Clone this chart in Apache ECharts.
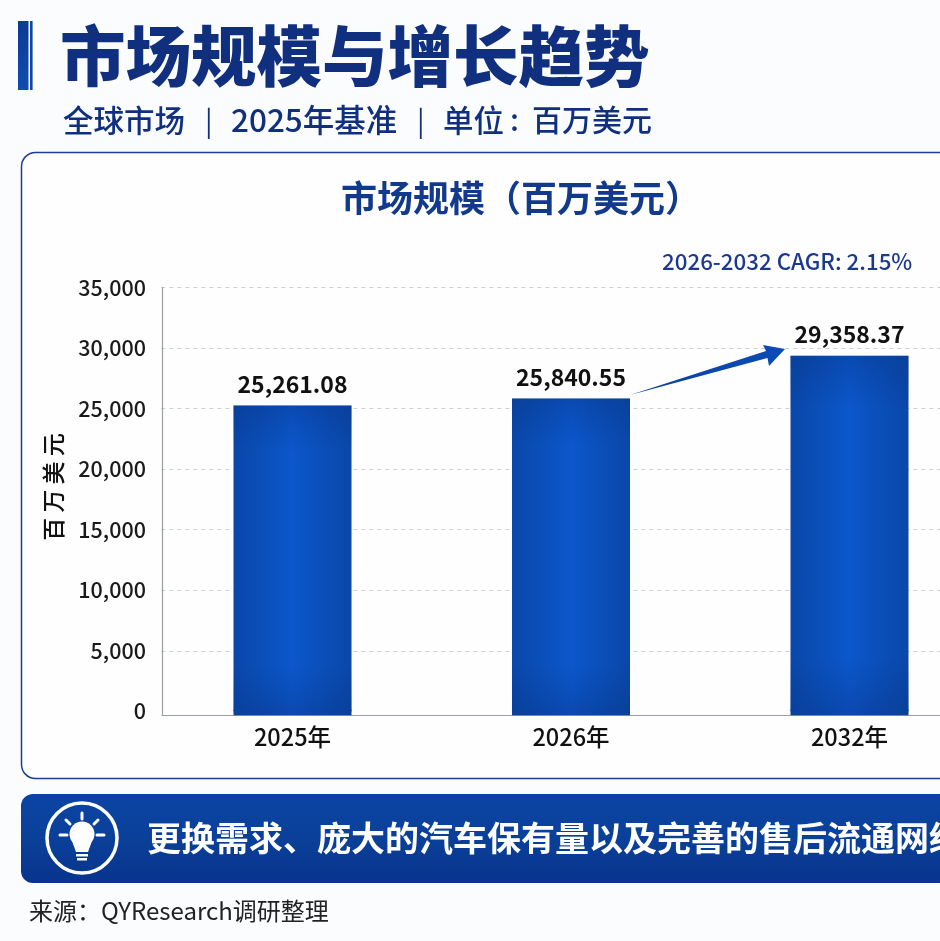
<!DOCTYPE html>
<html><head><meta charset="utf-8">
<style>html,body{margin:0;padding:0;background:#fbfcfe}#c{width:940px;height:941px}</style>
<script src="https://cdn.jsdelivr.net/npm/echarts@6/dist/echarts.min.js"></script>
</head><body><div id="c"></div>
<script>
const categories = ['2025年', '2026年', '2032年'];
const marketSize = [25261.08, 25840.55, 29358.37];
const yLabels = [0, 5000, 10000, 15000, 20000, 25000, 30000, 35000];
const gridTicks = [5000, 10000, 15000, 20000, 25000, 30000, 35000];
const mainTitle = '市场规模与增长趋势';
const chartTitle = '市场规模（百万美元）';
const cagrNote = '2026-2032 CAGR: 2.15%';
const bannerText = '更换需求、庞大的汽车保有量以及完善的售后流通网络';
const sourceText = '来源：QYResearch调研整理';

const CJK = '"Noto Sans CJK SC","Noto Sans",sans-serif';
const NAVY = '#10307f';
const BAR_W = 118;
const AXIS_FLOOR = -330;
const barColor = {type: 'linear', x: 0, y: 0, x2: 1, y2: 0, colorStops: [
  {offset: 0, color: '#0a47a8'}, {offset: 0.5, color: '#0b57cc'}, {offset: 1, color: '#0a47a8'}]};
const fmt = v => v.toLocaleString('en-US', {minimumFractionDigits: 2, maximumFractionDigits: 2});
const txt = (text, x, y, size, weight, fill, extra) => Object.assign({
  type: 'text', x, y, silent: true, z: 5,
  style: {text, fontSize: size, fontWeight: weight, fontFamily: CJK, fill, textAlign: 'left', textVerticalAlign: 'middle'}
}, extra || {});
const ray = (x1, y1, x2, y2) => ({type: 'line', silent: true, z: 6,
  shape: {x1, y1, x2, y2}, style: {stroke: '#fff', lineWidth: 3, lineCap: 'round'}});

const decor = [
  // title block
  {type: 'rect', silent: true, z: 5, shape: {x: 18, y: 21, width: 10.5, height: 69},
    style: {fill: {type: 'linear', x: 0, y: 0, x2: 0, y2: 1, colorStops: [{offset: 0, color: '#0d3a94'}, {offset: 1, color: '#0f4db0'}]}}},
  {type: 'rect', silent: true, z: 5, shape: {x: 30, y: 21, width: 2.6, height: 69}, style: {fill: '#0f46a6'}},
  txt(mainTitle, 60, 56, 65.5, 900, NAVY),
  txt('全球市场', 63, 120, 30.5, 500, NAVY),
  txt('|', 205, 120, 28, 400, NAVY),
  txt('2025年基准', 231, 120, 31.5, 500, NAVY),
  txt('|', 417, 120, 28, 400, NAVY),
  txt('单位', 443, 120, 30.5, 500, NAVY),
  txt(':', 510, 120, 30, 500, NAVY),
  txt('百万美元', 532, 120, 30, 500, NAVY),
  // chart card
  {type: 'rect', silent: true, z: -10, shape: {x: 21.5, y: 152.5, width: 960, height: 626, r: 14},
    style: {fill: '#fefefe', stroke: '#1c3f94', lineWidth: 1.5}},
  txt(chartTitle, 341, 198, 36, 600, '#123a8c'),
  txt(cagrNote, 662, 262, 22.3, 500, '#1c3a8c'),
  txt('百 万 美 元', 53, 487, 23, 500, '#111', {rotation: Math.PI / 2, style: {text: '百 万 美 元', fontSize: 23, fontWeight: 500, fontFamily: CJK, fill: '#111', textAlign: 'center', textVerticalAlign: 'middle'}}),
  // trims of grid edge left of the axis
  {type: 'rect', silent: true, z: 1, shape: {x: 150, y: 280, width: 7, height: 425}, style: {fill: '#fefefe'}},
  {type: 'rect', silent: true, z: 1, shape: {x: 150, y: 713, width: 11.5, height: 4}, style: {fill: '#fefefe'}},
  // growth arrow
  {type: 'polygon', silent: true, z: 6,
    shape: {points: [[630, 395], [766, 351], [763, 345], [785, 349], [769, 366], [767.5, 358]]},
    style: {fill: {type: 'linear', x: 0, y: 1, x2: 1, y2: 0, colorStops: [{offset: 0, color: '#0c3f9c'}, {offset: 1, color: '#0b4cb8'}]}}},
  // banner
  {type: 'rect', silent: true, z: -9, shape: {x: 21, y: 794, width: 960, height: 89, r: 12},
    style: {fill: {type: 'linear', x: 0, y: 0, x2: 0, y2: 1, colorStops: [
      {offset: 0, color: '#0a44a4'}, {offset: 0.5, color: '#0a4099'}, {offset: 1, color: '#08348c'}]}}},
  {type: 'circle', silent: true, z: 6, shape: {cx: 82, cy: 838, r: 35}, style: {fill: 'transparent', stroke: '#fff', lineWidth: 3.5}},
  ray(82, 813, 82, 819), ray(66, 820, 70, 824), ray(98, 820, 94, 824), ray(60, 835, 67, 835), ray(97, 835, 104, 835),
  {type: 'circle', silent: true, z: 6, shape: {cx: 82, cy: 834, r: 12.5}, style: {fill: '#fff'}},
  {type: 'polygon', silent: true, z: 6, shape: {points: [[72, 841], [92, 841], [88, 852], [76, 852]]}, style: {fill: '#fff'}},
  {type: 'rect', silent: true, z: 6, shape: {x: 76, y: 854, width: 12, height: 2.5}, style: {fill: '#fff'}},
  {type: 'rect', silent: true, z: 6, shape: {x: 77, y: 858, width: 10, height: 2.5}, style: {fill: '#fff'}},
  txt(bannerText, 147, 838, 34, 700, '#fff'),
  txt(sourceText, 29, 911, 24, 400, '#222')
];

const chart = echarts.init(document.getElementById('c'), null, {renderer: 'canvas'});
chart.setOption({
  animation: false,
  backgroundColor: '#fbfcfe',
  grid: {left: 153.25, width: 835.5, top: 287.5, height: 427.8, containLabel: false, outerBoundsMode: 'none'},
  xAxis: {
    type: 'category', data: categories,
    axisLine: {onZero: false, lineStyle: {color: '#9a9ea6', width: 1.2}},
    axisTick: {show: false},
    axisLabel: {fontSize: 23.5, fontWeight: 500, fontFamily: CJK, color: '#111', margin: 10}
  },
  yAxis: {
    type: 'value', min: AXIS_FLOOR, max: 35000, offset: -8.75,
    axisLine: {show: true, lineStyle: {color: '#9a9ea6', width: 1.2}},
    axisTick: {show: false, customValues: gridTicks},
    axisLabel: {customValues: yLabels, fontSize: 21.5, fontWeight: 500, fontFamily: CJK, color: '#1a1a1a', margin: 16,
      formatter: v => Number(v).toLocaleString('en-US')},
    splitLine: {show: true, lineStyle: {color: '#cdd1d6', type: [4, 4], width: 1}}
  },
  series: [
    {
      type: 'bar', data: marketSize, barWidth: BAR_W, z: 2,
      itemStyle: {color: barColor},
      label: {show: true, position: 'top', distance: 10, fontSize: 23, fontWeight: 600, fontFamily: CJK, color: '#111',
        formatter: p => fmt(p.value)}
    },
    {
      type: 'bar', data: marketSize, barWidth: BAR_W, barGap: '-100%', z: 3, silent: true,
      itemStyle: {color: {type: 'linear', x: 0, y: 0, x2: 0, y2: 1, colorStops: [
        {offset: 0, color: 'rgba(8,50,130,0.35)'}, {offset: 0.15, color: 'rgba(8,50,130,0)'},
        {offset: 0.85, color: 'rgba(8,50,130,0)'}, {offset: 1, color: 'rgba(8,50,130,0.35)'}]}}
    }
  ],
  graphic: decor
});

// The reference's bars run a few pixels past the zero level down to the axis line.
const feet = marketSize.map((v, i) => {
  const top = chart.convertToPixel({xAxisIndex: 0, yAxisIndex: 0}, [i, 0]);
  const bottom = chart.convertToPixel({xAxisIndex: 0, yAxisIndex: 0}, [i, AXIS_FLOOR]);
  return {type: 'rect', silent: true, z: 4,
    shape: {x: top[0] - BAR_W / 2, y: top[1] - 1.5, width: BAR_W, height: bottom[1] - top[1] + 1.5},
    style: {fill: {type: 'linear', x: 0, y: 0, x2: 1, y2: 0, colorStops: [
      {offset: 0, color: '#09409b'}, {offset: 0.5, color: '#0a4ab2'}, {offset: 1, color: '#09409b'}]}}};
});
chart.setOption({graphic: decor.concat(feet)});
</script></body></html>
